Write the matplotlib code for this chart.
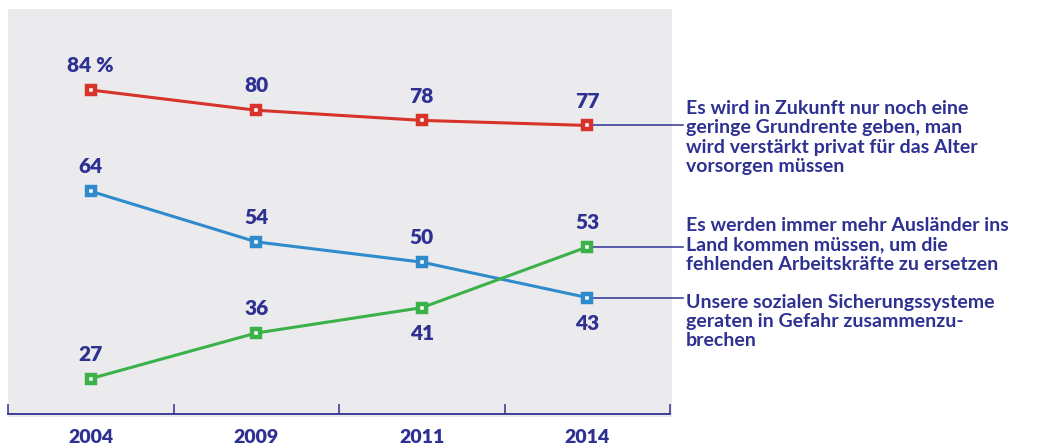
import matplotlib
matplotlib.use("Agg")
import matplotlib.pyplot as plt
from matplotlib.patches import Rectangle

years = ["2004", "2009", "2011", "2014"]
grundrente = [84, 80, 78, 77]
sicherung = [64, 54, 50, 43]
auslaender = [27, 36, 41, 53]

label_grundrente = "Es wird in Zukunft nur noch eine\ngeringe Grundrente geben, man\nwird verstärkt privat für das Alter\nvorsorgen müssen"
label_auslaender = "Es werden immer mehr Ausländer ins\nLand kommen müssen, um die\nfehlenden Arbeitskräfte zu ersetzen"
label_sicherung = "Unsere sozialen Sicherungssysteme\ngeraten in Gefahr zusammenzu-\nbrechen"

NAVY = "#2e3192"
RED = "#d7332b"
BLUE = "#2f8bcb"
GREEN = "#3bb14a"
BG = "#ebebee"

plt.rcParams['font.family'] = ['Lato', 'DejaVu Sans']

W, H = 1046, 447
fig = plt.figure(figsize=(W / 100, H / 100), dpi=100)

# gray background panel
fig.patches.append(Rectangle((8 / W, 1 - 417 / H), (672 - 8) / W, (417 - 9) / H,
                             transform=fig.transFigure, facecolor=BG, edgecolor='none', zorder=-5))

ax = fig.add_axes([8 / W, 1 - 414 / H, (670 - 8) / W, (414 - 9) / H])
ax.set_zorder(2)
ax.set_facecolor('none')
ax.patch.set_alpha(0)
ax.set_xlim(-0.5, 3.5)
ax.set_ylim(20, 100)
for s in ['top', 'left', 'right']:
    ax.spines[s].set_visible(False)
ax.spines['bottom'].set_color(NAVY)
ax.spines['bottom'].set_linewidth(1.3)
ax.set_yticks([])
ax.set_xticks([-0.5, 0.5, 1.5, 2.5, 3.5])
ax.set_xticklabels([])
ax.tick_params(axis='x', direction='in', length=7.5, width=1.1, color=NAVY)

x = list(range(len(years)))
for yr_i, yr in enumerate(years):
    ax.text(yr_i, -0.057, yr, transform=ax.get_xaxis_transform(), ha='center', va='center',
            fontsize=14, fontweight='heavy', color=NAVY)

series = [(grundrente, RED, ['above'] * 4),
          (sicherung, BLUE, ['above', 'above', 'above', 'below']),
          (auslaender, GREEN, ['above', 'above', 'below', 'above'])]

for vals, col, pos in series:
    ax.plot(x, vals, color=col, lw=2.2, marker='s', markersize=6.2,
            markeredgewidth=3.2, markerfacecolor='white', markeredgecolor=col,
            clip_on=False, zorder=3)
    for i, (v, p) in enumerate(zip(vals, pos)):
        txt = f"{v} %" if (vals is grundrente and i == 0) else f"{v}"
        dy = 17.5 if p == 'above' else -18.5
        ax.annotate(txt, (i, v), xytext=(0, dy), textcoords='offset points',
                    ha='center', va='center', fontsize=15, fontweight='heavy', color=NAVY)

# connector lines to the labels
xa_end = (683 - 8) / (670 - 8)
xa_start = (3 + 0.5) / 4
for vals in [grundrente, auslaender, sicherung]:
    ax.plot([xa_start, xa_end], [vals[-1], vals[-1]], transform=ax.get_yaxis_transform(),
            color=NAVY, lw=1.1, clip_on=False, zorder=2)

tx = 686 / W
for lab, yc in [(label_grundrente, 137.5), (label_auslaender, 245), (label_sicherung, 321.5)]:
    fig.text(tx, 1 - yc / H, lab, ha='left', va='center', fontsize=14, fontweight='bold',
             color=NAVY, linespacing=1.15)

fig.savefig("out.png", dpi=100)
